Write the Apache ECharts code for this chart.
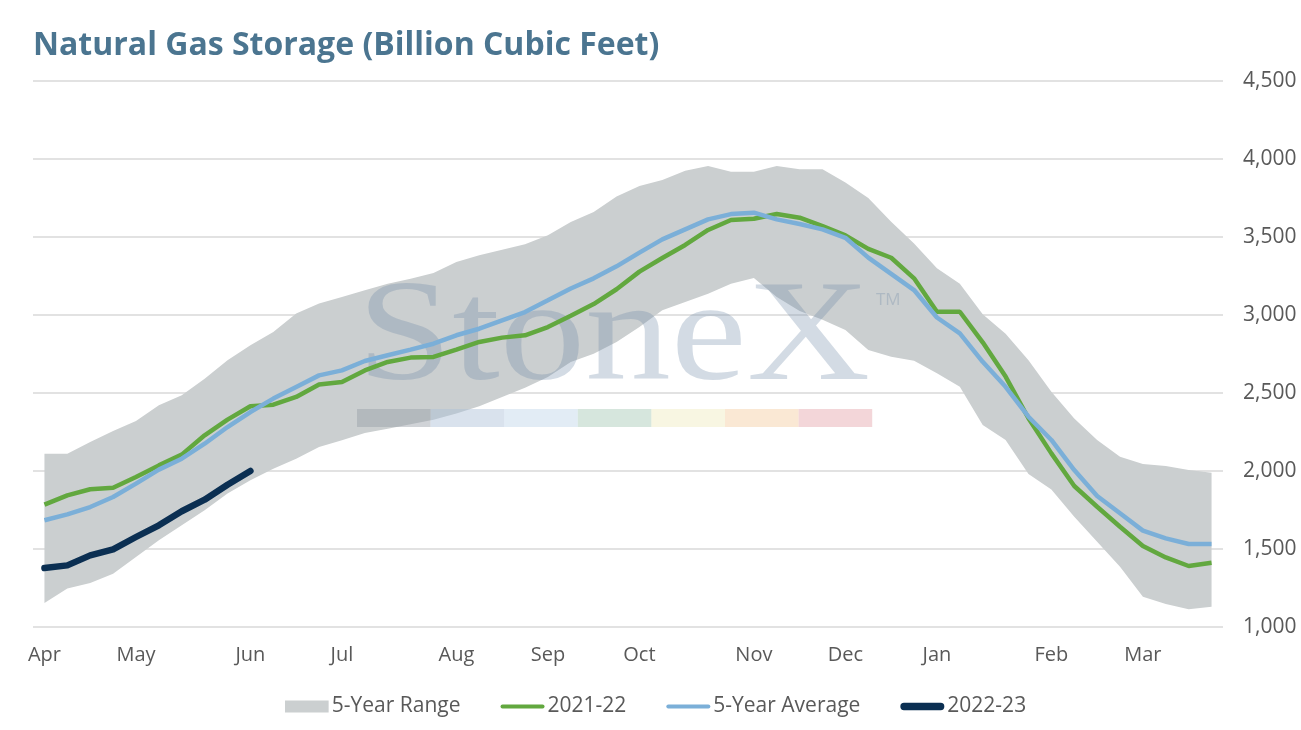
<!DOCTYPE html>
<html>
<head>
<meta charset="utf-8">
<title>Natural Gas Storage</title>
<script src="https://cdn.jsdelivr.net/npm/echarts@6/dist/echarts.min.js"></script>
<style>
  html, body { margin: 0; padding: 0; background: #fff; }
  #chart { width: 1301px; height: 730px; }
</style>
</head>
<body>
<div id="chart"></div>
<script>
// weekly storage, first week of April through end of March
const weeks = [
  'Apr', '', '', '', 'May', '', '', '', '', 'Jun', '', '', '',
  'Jul', '', '', '', '', 'Aug', '', '', '', 'Sep', '', '', '',
  'Oct', '', '', '', '', 'Nov', '', '', '', 'Dec', '', '', '',
  'Jan', '', '', '', '', 'Feb', '', '', '', 'Mar', '', '', ''
]

const rangeLow = [
  1154, 1246, 1282, 1342, 1449, 1556, 1652, 1748, 1855, 1940, 2015, 2079, 2154,
  2197, 2244, 2271, 2299, 2329, 2368, 2415, 2474, 2534, 2603, 2699, 2752, 2827,
  2923, 3030, 3083, 3137, 3201, 3237, 3115, 3026, 2970, 2904, 2776, 2733, 2707,
  2626, 2540, 2295, 2199, 1980, 1882, 1707, 1547, 1387, 1194, 1147, 1113, 1130
]
const rangeHigh = [
  2111, 2111, 2186, 2256, 2321, 2421, 2485, 2592, 2710, 2806, 2891, 3009, 3073,
  3116, 3158, 3201, 3233, 3269, 3340, 3383, 3419, 3453, 3511, 3596, 3660, 3759,
  3827, 3865, 3925, 3955, 3919, 3919, 3955, 3934, 3934, 3850, 3750, 3598, 3459,
  3300, 3200, 3005, 2880, 2710, 2508, 2337, 2199, 2092, 2045, 2032, 2006, 1989
]
const storage2021 = [
  1784, 1844, 1883, 1893, 1962, 2036, 2105, 2229, 2329, 2415, 2425, 2475, 2555,
  2570, 2645, 2699, 2727, 2731, 2778, 2827, 2855, 2870, 2923, 2995, 3070, 3165,
  3278, 3365, 3449, 3545, 3609, 3617, 3647, 3624, 3570, 3510, 3424, 3367, 3235,
  3021, 3021, 2825, 2605, 2338, 2113, 1904, 1771, 1643, 1519, 1446, 1391, 1412
]
const avg5yr = [
  1684, 1722, 1769, 1833, 1919, 2009, 2079, 2175, 2282, 2378, 2464, 2539, 2613,
  2645, 2705, 2742, 2778, 2816, 2870, 2912, 2966, 3019, 3094, 3170, 3235, 3312,
  3400, 3485, 3549, 3613, 3647, 3656, 3613, 3583, 3549, 3495, 3368, 3264, 3160,
  2984, 2882, 2700, 2540, 2348, 2199, 2006, 1840, 1729, 1618, 1568, 1532, 1532
]
const storage2022 = [1378, 1395, 1459, 1498, 1577, 1652, 1742, 1816, 1912, 2000]

const yTicks = { min: 1000, max: 4500, step: 500 }

// watermark strip colours
const stripColors = [
  'rgba(150,158,166,0.45)', 'rgba(170,190,215,0.45)', 'rgba(190,212,232,0.45)',
  'rgba(165,200,180,0.45)', 'rgba(240,236,190,0.45)', 'rgba(245,205,160,0.45)',
  'rgba(228,165,170,0.45)'
]

const font = '"Open Sans", Lato, sans-serif'
const chart = echarts.init(document.getElementById('chart'))

let rangeSpan = rangeHigh.map((v, i) => v - rangeLow[i])

let strip = stripColors.map((c, i) => ({
  type: 'rect',
  z: 3,
  shape: { x: 357 + i * 73.6, y: 409, width: 73.6, height: 18 },
  style: { fill: c },
  silent: true,
}))

// legend icons: flat block for the range, rounded bars for the lines
const iconBlock = 'path://M0,0 h40 v11 h-40 z'
const iconThin = 'path://M2,0 h41 a2,2 0 0 1 0,4 h-41 a2,2 0 0 1 0,-4 z'
const iconThick = 'path://M3.5,0 h35 a3.5,3.5 0 0 1 0,7 h-35 a3.5,3.5 0 0 1 0,-7 z'

chart.setOption({
  animation: false,
  textStyle: { fontFamily: font },
  title: {
    text: 'Natural Gas Storage (Billion Cubic Feet)',
    left: 28,
    top: 25,
    textStyle: { fontFamily: font, fontSize: 32, fontWeight: 'bold', color: '#4b7590' },
  },
  legend: {
    left: 280,
    top: 691,
    itemWidth: 44,
    itemHeight: 12,
    itemGap: 40,
    symbolKeepAspect: true,
    textStyle: { fontFamily: font, fontSize: 21, color: '#595959', padding: [0, 0, 0, -2] },
    data: [
      { name: '5-Year Range', icon: iconBlock },
      { name: '2021-22', icon: iconThin },
      { name: '5-Year Average', icon: iconThin },
      { name: '2022-23', icon: iconThick },
    ],
  },
  grid: { left: 33, right: 78, top: 81, bottom: 103 },
  xAxis: {
    type: 'category',
    data: weeks,
    boundaryGap: true,
    axisLine: { show: false },
    axisTick: { show: false },
    axisLabel: { interval: 0, color: '#595959', fontSize: 20, margin: 18, fontFamily: font },
  },
  yAxis: {
    type: 'value',
    position: 'right',
    min: yTicks.min,
    max: yTicks.max,
    interval: yTicks.step,
    axisLine: { show: false },
    axisTick: { show: false },
    axisLabel: {
      color: '#595959',
      fontSize: 21,
      margin: 20,
      fontFamily: font,
      formatter: (v) => v.toLocaleString('en-US'),
    },
    splitLine: { lineStyle: { color: '#d9d9d9', width: 1.5 } },
  },
  graphic: [
    {
      type: 'text',
      z: 3,
      x: 357,
      y: 341,
      scaleX: 1.18,
      silent: true,
      style: {
        text: 'StoneX',
        font: '145px "Liberation Serif", "DejaVu Serif", serif',
        fill: 'rgba(110,135,165,0.3)',
        align: 'left',
        verticalAlign: 'middle',
      },
    },
    {
      type: 'text',
      z: 3,
      x: 876,
      y: 300,
      silent: true,
      style: {
        text: 'TM',
        font: '17px "Open Sans", sans-serif',
        fill: 'rgba(110,135,165,0.3)',
        align: 'left',
        verticalAlign: 'middle',
      },
    },
  ].concat(strip),
  series: [
    {
      name: 'rangeBase',
      type: 'line',
      stack: 'range',
      data: rangeLow,
      symbol: 'none',
      lineStyle: { opacity: 0 },
      z: 1,
      silent: true,
    },
    {
      name: '5-Year Range',
      type: 'line',
      stack: 'range',
      data: rangeSpan,
      symbol: 'none',
      itemStyle: { color: '#cbcfd0' },
      lineStyle: { opacity: 0, width: 0 },
      areaStyle: { color: '#cbcfd0', opacity: 1 },
      z: 1,
      silent: true,
    },
    {
      name: '2021-22',
      type: 'line',
      data: storage2021,
      symbol: 'none',
      itemStyle: { color: '#62a83f' },
      lineStyle: { color: '#62a83f', width: 4.5 },
      z: 5,
    },
    {
      name: '5-Year Average',
      type: 'line',
      data: avg5yr,
      symbol: 'none',
      itemStyle: { color: '#7bafd8' },
      lineStyle: { color: '#7bafd8', width: 4.5 },
      z: 5,
    },
    {
      name: '2022-23',
      type: 'line',
      data: storage2022,
      symbol: 'none',
      itemStyle: { color: '#0b2f52' },
      lineStyle: { color: '#0b2f52', width: 6.5, cap: 'round', join: 'round' },
      z: 6,
    },
  ],
})
</script>
</body>
</html>
